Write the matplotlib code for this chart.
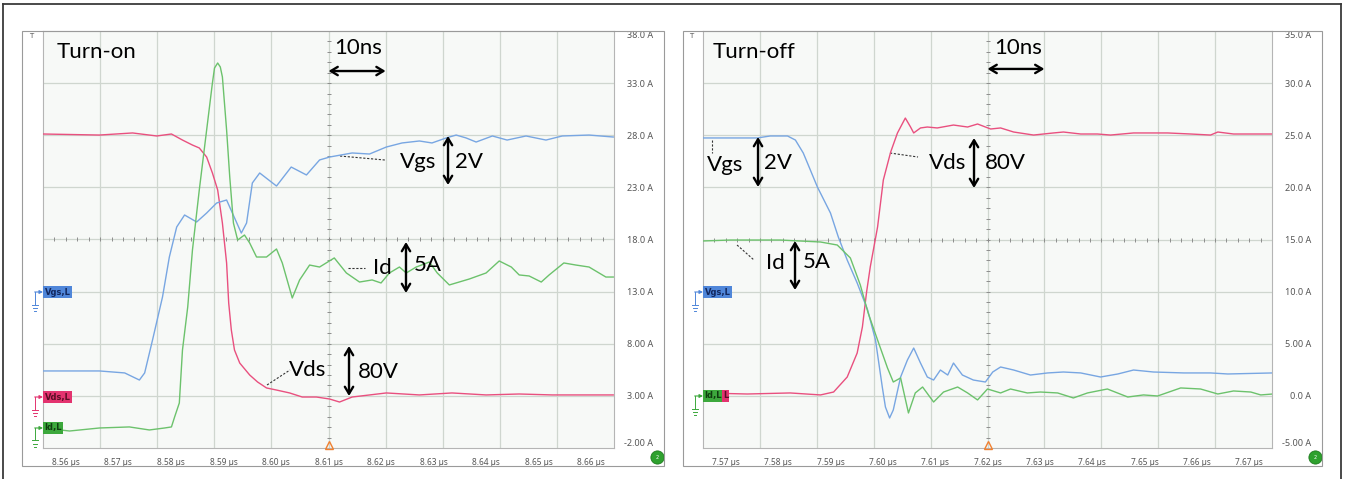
import matplotlib.pyplot as plt
import numpy as np
from matplotlib.patches import Rectangle
from matplotlib.lines import Line2D

plt.rcParams['font.family'] = ['Lato', 'DejaVu Sans']

# ---- turn-on capture (time in us, traces on the 5 A/div screen scale) ----
on_vgs_t = [8.5556, 8.5664, 8.5712, 8.5740, 8.5750, 8.5765, 8.5784, 8.5797, 8.5811, 8.5826,
            8.5849, 8.5868, 8.5887, 8.5906, 8.5917, 8.5934, 8.5944, 8.5955, 8.5969, 8.6001,
            8.6029, 8.6058, 8.6083, 8.6102, 8.6145, 8.6178, 8.6210, 8.6240, 8.6273, 8.6297,
            8.6324, 8.6343, 8.6362, 8.6381, 8.6412, 8.6440, 8.6476, 8.6514, 8.6545, 8.6596, 8.6642]
on_vgs = [5.39, 5.39, 5.20, 4.52, 5.20, 8.36, 12.49, 16.32, 19.20, 20.35,
          19.68, 20.54, 21.50, 21.79, 20.54, 18.62, 19.58, 23.42, 24.38, 23.13,
          24.95, 24.19, 25.63, 25.91, 26.30, 26.20, 26.87, 27.26, 27.45, 27.26,
          27.74, 28.02, 27.74, 27.35, 27.93, 27.54, 27.93, 27.54, 27.93, 28.02, 27.83]

on_vds_t = [8.5556, 8.5664, 8.5727, 8.5773, 8.5801, 8.5822, 8.5841, 8.5854, 8.5868, 8.5879,
            8.5889, 8.5898, 8.5906, 8.5910, 8.5915, 8.5921, 8.5931, 8.5950, 8.5965, 8.5982,
            8.6001, 8.6026, 8.6050, 8.6077, 8.6102, 8.6121, 8.6145, 8.6210, 8.6273, 8.6335,
            8.6400, 8.6463, 8.6526, 8.6642]
on_vds = [28.12, 28.02, 28.22, 27.93, 28.12, 27.54, 27.06, 26.78, 25.91, 24.38,
          22.75, 19.58, 15.75, 11.91, 9.32, 7.40, 6.15, 5.00, 4.33, 3.76,
          3.56, 3.28, 2.89, 2.89, 2.70, 2.41, 2.89, 3.28, 3.09, 3.28,
          3.09, 3.18, 3.09, 3.09]

on_id_t = [8.5556, 8.5607, 8.5664, 8.5721, 8.5759, 8.5788, 8.5801, 8.5807, 8.5816, 8.5822,
           8.5832, 8.5841, 8.5854, 8.5868, 8.5879, 8.5883, 8.5889, 8.5894, 8.5898, 8.5906,
           8.5912, 8.5919, 8.5927, 8.5940, 8.5950, 8.5963, 8.5982, 8.6001, 8.6012, 8.6031,
           8.6045, 8.6064, 8.6083, 8.6111, 8.6134, 8.6159, 8.6183, 8.6200, 8.6216, 8.6235,
           8.6248, 8.6267, 8.6292, 8.6307, 8.6330, 8.6368, 8.6400, 8.6425, 8.6448, 8.6463,
           8.6482, 8.6505, 8.6520, 8.6548, 8.6571, 8.6596, 8.6628, 8.6642]
on_id = [-0.08, -0.37, -0.08, 0.02, -0.27, -0.08, 0.02, 0.97, 2.32, 7.40,
         11.53, 16.99, 22.75, 28.50, 33.01, 34.45, 34.93, 34.55, 33.59, 28.50,
         24.00, 19.58, 17.95, 18.43, 17.66, 16.32, 16.32, 17.09, 15.75, 12.39,
         14.12, 15.55, 15.36, 16.23, 14.79, 13.92, 14.12, 13.83, 14.79, 15.36,
         14.79, 15.36, 15.84, 14.79, 13.64, 14.21, 14.79, 15.94, 15.36, 14.60,
         14.50, 13.92, 14.60, 15.75, 15.55, 15.36, 14.40, 14.40]

on_xticks = [8.56, 8.57, 8.58, 8.59, 8.60, 8.61, 8.62, 8.63, 8.64, 8.65, 8.66]
on_yticks = [-2, 3, 8, 13, 18, 23, 28, 33, 38]
on_ylabels = ['-2.00 A', '3.00 A', '8.00 A', '13.0 A', '18.0 A', '23.0 A', '28.0 A', '33.0 A', '38.0 A']

# ---- turn-off capture ----
off_vgs_t = [7.5657, 7.5760, 7.5785, 7.5818, 7.5833, 7.5848, 7.5856, 7.5875, 7.5900, 7.5915,
             7.5932, 7.5951, 7.5971, 7.5986, 7.5999, 7.6005, 7.6013, 7.6020, 7.6034, 7.6047,
             7.6059, 7.6072, 7.6085, 7.6097, 7.6110, 7.6124, 7.6135, 7.6152, 7.6173, 7.6196,
             7.6210, 7.6225, 7.6250, 7.6282, 7.6315, 7.6345, 7.6378, 7.6416, 7.6449, 7.6479,
             7.6517, 7.6575, 7.6626, 7.6659, 7.6745]
off_vgs = [24.74, 24.74, 24.93, 24.93, 24.54, 23.30, 22.34, 20.04, 17.54, 15.24,
           13.03, 10.83, 8.24, 5.36, 0.85, -1.07, -2.12, -1.35, 1.81, 3.44,
           4.59, 3.15, 1.81, 1.52, 2.48, 2.00, 3.15, 2.00, 1.52, 1.33,
           2.29, 2.77, 2.48, 2.00, 2.20, 2.29, 2.20, 1.81, 2.10, 2.48,
           2.29, 2.20, 2.20, 2.10, 2.20]

off_vds_t = [7.5657, 7.5741, 7.5823, 7.5881, 7.5906, 7.5932, 7.5951, 7.5961, 7.5969, 7.5976,
             7.5990, 7.6001, 7.6015, 7.6028, 7.6043, 7.6053, 7.6059, 7.6072, 7.6085, 7.6104,
             7.6135, 7.6162, 7.6181, 7.6206, 7.6225, 7.6250, 7.6288, 7.6326, 7.6345, 7.6378,
             7.6410, 7.6435, 7.6479, 7.6544, 7.6588, 7.6626, 7.6640, 7.6670, 7.6745]
off_vds = [0.28, 0.18, 0.28, 0.09, 0.37, 1.81, 4.11, 6.61, 9.96, 12.36,
           16.20, 20.71, 23.39, 25.22, 26.65, 25.79, 25.22, 25.70, 25.79, 25.70,
           25.98, 25.79, 26.08, 25.60, 25.70, 25.31, 25.02, 25.22, 25.31, 25.12,
           25.12, 25.02, 25.22, 25.22, 25.12, 25.02, 25.31, 25.12, 25.12]

off_id_t = [7.5657, 7.5709, 7.5804, 7.5881, 7.5913, 7.5938, 7.5957, 7.5972, 7.5990, 7.6009,
            7.6020, 7.6034, 7.6049, 7.6062, 7.6076, 7.6097, 7.6116, 7.6143, 7.6162, 7.6181,
            7.6200, 7.6225, 7.6244, 7.6276, 7.6301, 7.6334, 7.6364, 7.6391, 7.6429, 7.6468,
            7.6498, 7.6525, 7.6569, 7.6607, 7.6640, 7.6670, 7.6703, 7.6722, 7.6745]
off_id = [14.86, 14.95, 14.95, 14.76, 14.47, 13.23, 10.64, 7.95, 5.36, 2.67,
          1.33, 1.72, -1.64, 0.28, 0.85, -0.59, 0.37, 0.85, 0.28, -0.39,
          0.66, 0.28, 0.66, 0.28, 0.37, 0.28, -0.20, 0.28, 0.66, -0.11,
          0.09, -0.01, 0.76, 0.66, 0.18, 0.47, 0.37, 0.09, 0.18]

off_xticks = [7.57, 7.58, 7.59, 7.60, 7.61, 7.62, 7.63, 7.64, 7.65, 7.66, 7.67]
off_yticks = [-5, 0, 5, 10, 15, 20, 25, 30, 35]
off_ylabels = ['-5.00 A', '0.0 A', '5.00 A', '10.0 A', '15.0 A', '20.0 A', '25.0 A', '30.0 A', '35.0 A']

BLUE = '#78a6e2'
PINK = '#e9507f'
GREEN = '#6cc26c'
GRID = '#cfd6cf'
DIV = 0.01087   # one horizontal screen division in us

fig = plt.figure(figsize=(13.49, 4.79), dpi=100)

# outer frame (open at the bottom) and the two window frames
for xs, ys in [([0.0022, 0.0022], [0, 0.9917]), ([0.0022, 0.9941], [0.9917, 0.9917]),
               ([0.9941, 0.9941], [0, 0.9917])]:
    fig.add_artist(Line2D(xs, ys, transform=fig.transFigure, color='#3a3a3a', lw=1.3))
for x0, w in [(0.0163, 0.4759), (0.5063, 0.4737)]:
    fig.add_artist(Rectangle((x0, 0.0271), w, 0.9081, transform=fig.transFigure,
                             fill=False, ec='#9a9a9a', lw=0.8))


def scope(rect, t_mid, yticks, ylabels, xticks):
    ax = fig.add_axes(rect)
    ax.set_facecolor('#f7f9f7')
    ax.set_xlim(t_mid - 5 * DIV, t_mid + 5 * DIV)
    ax.set_ylim(yticks[0], yticks[-1])
    for k in range(-4, 5):
        ax.axvline(t_mid + k * DIV, color=GRID, lw=0.9, zorder=0)
    for y in yticks[1:-1]:
        ax.axhline(y, color=GRID, lw=0.9, zorder=0)
    ymid = yticks[4]
    ax.plot([t_mid] * 41, np.arange(yticks[0], yticks[-1] + 1), ls='none', marker='_',
            ms=3.5, mew=0.7, color='#8d8d8d', zorder=1)
    ax.plot(t_mid + np.arange(-25, 26) * DIV / 5, [ymid] * 51, ls='none', marker='|',
            ms=3.5, mew=0.7, color='#8d8d8d', zorder=1)
    for s in ax.spines.values():
        s.set_color('#b5b5b5')
        s.set_linewidth(0.8)
    ax.set_xticks(xticks)
    ax.set_xticklabels([f'{x:.2f} µs' for x in xticks], family='Noto Sans')
    ax.tick_params(axis='x', length=0, pad=7, labelsize=6, labelcolor='#555555')
    ax.yaxis.tick_right()
    ax.set_yticks(yticks)
    ax.set_yticklabels(ylabels, ha='right', family='Noto Sans')
    ax.tick_params(axis='y', length=0, pad=28, labelsize=6.5, labelcolor='#555555')
    labs = ax.get_yticklabels()
    labs[0].set_va('bottom')
    labs[-1].set_va('top')
    # trigger marker, 'T' and the green status dot
    ax.plot([t_mid], [0.008], transform=ax.get_xaxis_transform(), marker='^', ms=6,
            mfc='none', mec='#f08030', mew=1.0, clip_on=False, zorder=5)
    ax.text(-0.021, 0.988, 'T', transform=ax.transAxes, fontsize=5, color='#555555',
            ha='center', va='center', family='DejaVu Sans')
    ax.plot([1.075], [-0.022], transform=ax.transAxes, marker='o', ms=9.5, mfc='#2ea12e',
            mec='#1d7a1d', mew=0.6, clip_on=False)
    ax.text(1.075, -0.022, '2', transform=ax.transAxes, fontsize=3.5, color='white',
            ha='center', va='center', family='DejaVu Sans')
    return ax


def channel_tag(ax, fy, text, color, tcolor):
    ax.text(0.003, fy, text, transform=ax.transAxes, fontsize=6, fontweight='bold',
            color=tcolor, ha='left', va='center', family='DejaVu Sans', clip_on=False,
            bbox=dict(boxstyle='square,pad=0.15', fc=color, ec='none'))
    ax.annotate('', xy=(0.0, fy), xycoords='axes fraction', xytext=(-6, 0),
                textcoords='offset points',
                arrowprops=dict(arrowstyle='-|>', color=color, lw=0.8, mutation_scale=5,
                                shrinkA=0, shrinkB=0))
    gx = -0.0135
    ax.plot([gx, gx], [fy, fy - 0.03], transform=ax.transAxes, color=color, lw=0.7, clip_on=False)
    for i, hw in enumerate([0.005, 0.0035, 0.002]):
        yy = fy - 0.03 - i * 0.008
        ax.plot([gx - hw, gx + hw], [yy, yy], transform=ax.transAxes, color=color, lw=0.7,
                clip_on=False)


def scale_bar(ax, fx, fy0, fy1):
    ax.annotate('', xy=(fx, fy0), xytext=(fx, fy1), xycoords='axes fraction',
                arrowprops=dict(arrowstyle='<->,head_length=0.5,head_width=0.3', lw=1.7,
                                color='black', shrinkA=0, shrinkB=0))


def leader(ax, xs, ys):
    ax.plot(xs, ys, transform=ax.transAxes, color='#333333', lw=0.8, ls=(0, (2, 1.5)))


def label(ax, fx, fy, text, ha='center'):
    ax.text(fx, fy, text, transform=ax.transAxes, fontsize=16, ha=ha, va='center', color='black')


# ---------------- turn-on ----------------
ax1 = scope([0.03188, 0.06472, 0.42328, 0.87056], 8.61, on_yticks, on_ylabels, on_xticks)
ax1.plot(on_vds_t, on_vds, color=PINK, lw=1.0, zorder=3)
ax1.plot(on_vgs_t, on_vgs, color=BLUE, lw=1.0, zorder=3)
ax1.plot(on_id_t, on_id, color=GREEN, lw=1.0, zorder=3)

label(ax1, 0.0245, 0.9496, 'Turn-on', ha='left')
label(ax1, 0.5517, 0.9592, '10ns')
ax1.annotate('', xy=(8.61, 0.904), xytext=(8.61 + DIV, 0.904), xycoords=('data', 'axes fraction'),
             arrowprops=dict(arrowstyle='<->,head_length=0.5,head_width=0.3', lw=1.7,
                             color='black', shrinkA=0, shrinkB=0))
label(ax1, 0.6567, 0.6859, 'Vgs')
leader(ax1, [0.5201, 0.5989], [0.7002, 0.6906])
scale_bar(ax1, 0.7093, 0.7482, 0.6307)
label(ax1, 0.7461, 0.6859, '2V')
label(ax1, 0.5937, 0.4317, 'Id')
leader(ax1, [0.5342, 0.5639], [0.4317, 0.4317])
scale_bar(ax1, 0.6357, 0.4940, 0.3717)
label(ax1, 0.6743, 0.4388, '5A')
label(ax1, 0.4641, 0.1871, 'Vds')
leader(ax1, [0.3923, 0.4326], [0.1511, 0.1871])
scale_bar(ax1, 0.5359, 0.2446, 0.1247)
label(ax1, 0.5867, 0.1823, '80V')

channel_tag(ax1, 0.3741, 'Vgs,L', '#4f86d9', '#13285e')
channel_tag(ax1, 0.1223, 'Vds,L', '#e3336f', '#5a0e25')
channel_tag(ax1, 0.048, 'Id,L', '#3ca83c', '#0f3d0f')

# ---------------- turn-off ----------------
ax2 = scope([0.52113, 0.06472, 0.42179, 0.87056], 7.62, off_yticks, off_ylabels, off_xticks)
ax2.plot(off_vds_t, off_vds, color=PINK, lw=1.0, zorder=3)
ax2.plot(off_vgs_t, off_vgs, color=BLUE, lw=1.0, zorder=3)
ax2.plot(off_id_t, off_id, color=GREEN, lw=1.0, zorder=3)

label(ax2, 0.0176, 0.9496, 'Turn-off', ha='left')
label(ax2, 0.5536, 0.9592, '10ns')
ax2.annotate('', xy=(7.62, 0.909), xytext=(7.62 + DIV, 0.909), xycoords=('data', 'axes fraction'),
             arrowprops=dict(arrowstyle='<->,head_length=0.5,head_width=0.3', lw=1.7,
                             color='black', shrinkA=0, shrinkB=0))
label(ax2, 0.0387, 0.6787, 'Vgs')
leader(ax2, [0.0158, 0.0158], [0.7386, 0.7074])
scale_bar(ax2, 0.0967, 0.7458, 0.6259)
label(ax2, 0.1318, 0.6835, '2V')
label(ax2, 0.4306, 0.6835, 'Vds')
leader(ax2, [0.3286, 0.3779], [0.7074, 0.6978])
scale_bar(ax2, 0.4763, 0.7434, 0.6235)
label(ax2, 0.5308, 0.6835, '80V')
label(ax2, 0.1265, 0.4436, 'Id')
leader(ax2, [0.0598, 0.0896], [0.4868, 0.4508])
scale_bar(ax2, 0.1617, 0.4964, 0.3789)
label(ax2, 0.2004, 0.4460, '5A')

channel_tag(ax2, 0.3741, 'Vgs,L', '#4f86d9', '#13285e')
channel_tag(ax2, 0.1247, 'Id,L', '#3ca83c', '#0f3d0f')
ax2.text(0.035, 0.1247, 'L', transform=ax2.transAxes, fontsize=6, fontweight='bold',
         color='#5a0e25', ha='left', va='center', family='DejaVu Sans',
         bbox=dict(boxstyle='square,pad=0.15', fc='#e3336f', ec='none'))

fig.savefig('out.png', dpi=100)
